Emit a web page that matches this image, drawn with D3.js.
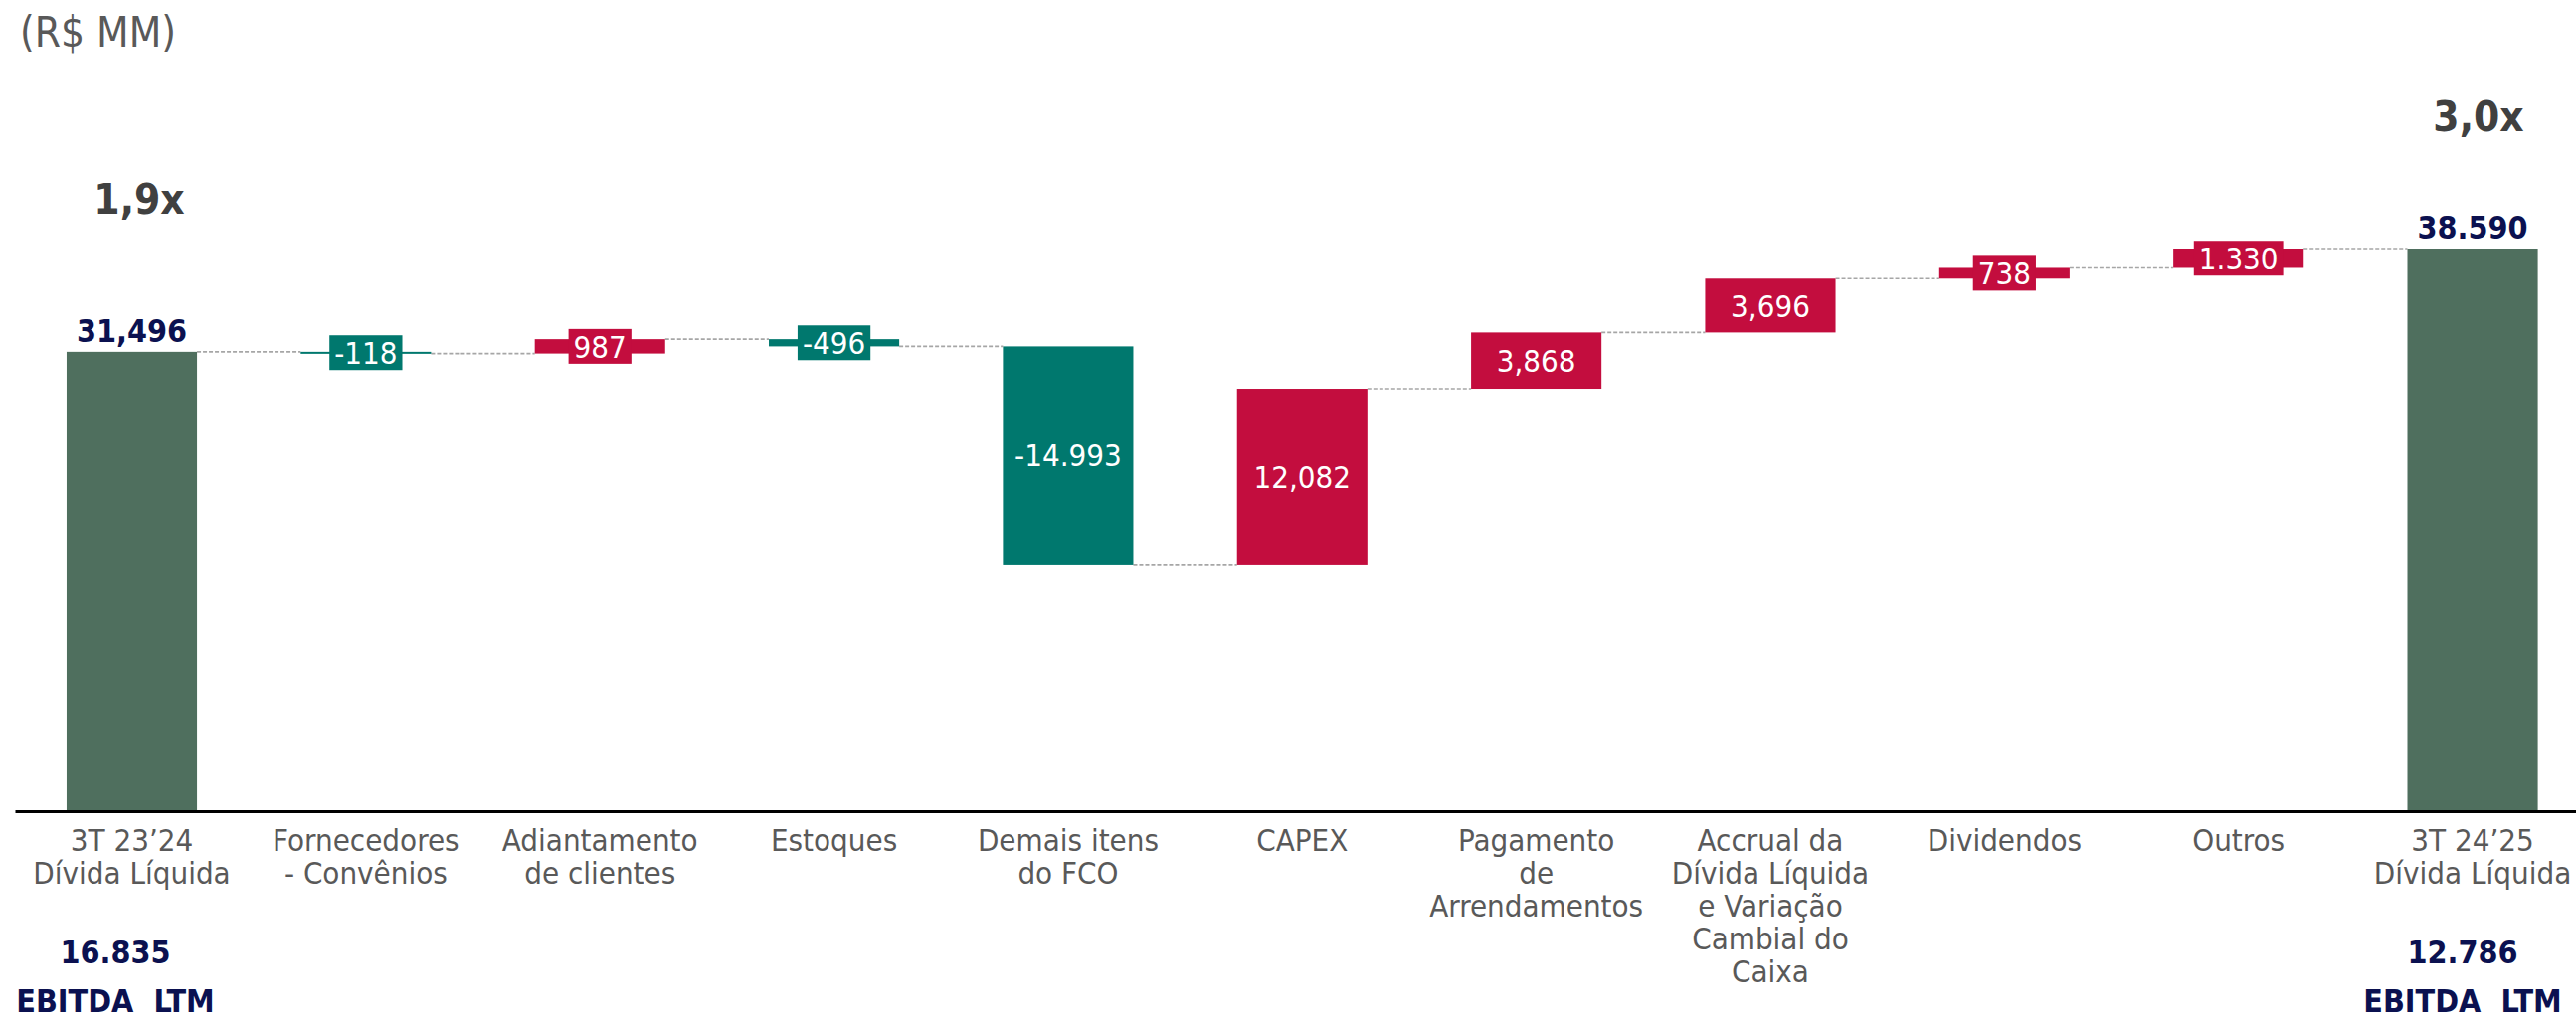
<!DOCTYPE html>
<html>
<head>
<meta charset="utf-8">
<script src="https://cdn.jsdelivr.net/npm/d3@7"></script>
<style>
  body { margin: 0; background: #fff; }
  svg text { font-family: "DejaVu Sans Condensed", "DejaVu Sans", sans-serif; font-stretch: condensed; }
</style>
</head>
<body>
<div id="chart"></div>
<script>
// chart data
var categories = ["start", "forn", "adiant", "estoques", "fco", "capex", "arrend", "accrual", "div", "outros", "end"];
var categoryLines = [
  ["3T 23\u201924", "Dívida Líquida"],
  ["Fornecedores", "- Convênios"],
  ["Adiantamento", "de clientes"],
  ["Estoques"],
  ["Demais itens", "do FCO"],
  ["CAPEX"],
  ["Pagamento", "de", "Arrendamentos"],
  ["Accrual da", "Dívida Líquida", "e Variação", "Cambial do", "Caixa"],
  ["Dividendos"],
  ["Outros"],
  ["3T 24\u201925", "Dívida Líquida"]
];
var startValue = 31496;
var endValue = 38590;
var deltas = [-118, 987, -496, -14993, 12082, 3868, 3696, 738, 1330];
var deltaLabels = ["-118", "987", "-496", "-14.993", "12,082", "3,868", "3,696", "738", "1.330"];
var totalLabels = ["31,496", "38.590"];
var ebitdaValues = ["16.835", "12.786"];
var leverage = ["1,9x", "3,0x"];

var width = 2590, height = 1027;
var baseY = 815;

var svg = d3.select("#chart").append("svg")
    .attr("width", width)
    .attr("height", height);

//Setup the ranges
var x = d3.scaleBand().domain(categories)
    .range([15, width])
    .paddingInner(0.443).paddingOuter(0.192).align(0.575);
var y = d3.scaleLinear().domain([0, endValue]).range([baseY, 250]);

var posColor = "#C30D3E", negColor = "#00786E", totalColor = "#4F6F5E";
var navy = "#0B1150";

// build waterfall steps
var steps = [];
var running = startValue;
deltas.forEach(function(d, i) {
  steps.push({cat: categories[i + 1], from: running, to: running + d, value: d, label: deltaLabels[i]});
  running += d;
});

// connectors (drawn first, below bars)
var levels = [startValue].concat(steps.map(function(s) { return s.to; }));
svg.selectAll(".connector")
    .data(levels)
  .enter().append("line")
    .attr("class", "connector")
    .attr("x1", function(d, i) { return x(categories[i]) + x.bandwidth(); })
    .attr("x2", function(d, i) { return x(categories[i + 1]); })
    .attr("y1", function(d) { return y(d); })
    .attr("y2", function(d) { return y(d); })
    .attr("stroke", "#A6A6A6")
    .attr("stroke-width", 1.6)
    .attr("stroke-dasharray", "4,2");

// total bars
var totals = [{cat: categories[0], value: startValue, label: totalLabels[0]},
              {cat: categories[categories.length - 1], value: endValue, label: totalLabels[1]}];
svg.selectAll(".total")
    .data(totals)
  .enter().append("rect")
    .attr("class", "total")
    .attr("x", function(d) { return x(d.cat); })
    .attr("width", x.bandwidth())
    .attr("y", function(d) { return y(d.value); })
    .attr("height", function(d) { return y(0) - y(d.value); })
    .attr("fill", totalColor);

svg.selectAll(".total-label")
    .data(totals)
  .enter().append("text")
    .attr("class", "total-label")
    .attr("x", function(d) { return x(d.cat) + x.bandwidth() / 2; })
    .attr("y", function(d) { return y(d.value) - 10; })
    .attr("text-anchor", "middle")
    .attr("font-size", 32)
    .attr("font-weight", "bold")
    .attr("fill", navy)
    .text(function(d) { return d.label; });

// delta bars
svg.selectAll(".step")
    .data(steps)
  .enter().append("rect")
    .attr("class", "step")
    .attr("x", function(d) { return x(d.cat); })
    .attr("width", x.bandwidth())
    .attr("y", function(d) { return y(Math.max(d.from, d.to)); })
    .attr("height", function(d) { return Math.max(2, Math.abs(y(d.from) - y(d.to))); })
    .attr("fill", function(d) { return d.value < 0 ? negColor : posColor; });

// delta labels, with a coloured box when the bar is too thin
var boxH = 35;
var lbl = svg.selectAll(".step-label")
    .data(steps)
  .enter().append("g")
    .attr("class", "step-label")
    .attr("transform", function(d) {
      var cy = (y(d.from) + y(d.to)) / 2;
      return "translate(" + (x(d.cat) + x.bandwidth() / 2) + "," + cy + ")";
    });

lbl.append("text")
    .attr("text-anchor", "middle")
    .attr("dy", "0.36em")
    .attr("font-size", 31)
    .attr("fill", "#fff")
    .text(function(d) { return d.label; });

lbl.each(function(d) {
  var g = d3.select(this);
  if (Math.abs(y(d.from) - y(d.to)) < boxH) {
    var w = g.select("text").node().getComputedTextLength() + 10;
    g.insert("rect", "text")
      .attr("x", -w / 2)
      .attr("y", -boxH / 2)
      .attr("width", w)
      .attr("height", boxH)
      .attr("fill", d.value < 0 ? negColor : posColor);
  }
});

// x axis
var xAxis = svg.append("g")
    .attr("transform", "translate(0," + (baseY + 1) + ")")
    .call(d3.axisBottom(x).tickSize(0).tickFormat(""));
xAxis.select(".domain").attr("stroke", "#000").attr("stroke-width", 3);

xAxis.selectAll(".tick").each(function(d, i) {
  var t = d3.select(this).append("text")
      .attr("text-anchor", "middle")
      .attr("y", 40)
      .attr("font-size", 31)
      .attr("fill", "#595959");
  categoryLines[i].forEach(function(line, j) {
    t.append("tspan").attr("x", 0).attr("dy", j === 0 ? 0 : 33).text(line);
  });
});

// EBITDA notes under the totals
var notes = [{x: 116, value: ebitdaValues[0]}, {x: 2476, value: ebitdaValues[1]}];
notes.forEach(function(n) {
  svg.append("text")
      .attr("x", n.x).attr("y", 969)
      .attr("text-anchor", "middle")
      .attr("font-size", 32).attr("font-weight", "bold")
      .attr("fill", navy)
      .text(n.value);
  svg.append("text")
      .attr("x", n.x).attr("y", 1018)
      .attr("text-anchor", "middle")
      .attr("font-size", 32).attr("font-weight", "bold")
      .attr("fill", navy)
      .style("white-space", "pre")
      .text("EBITDA  LTM");
});

// leverage multiples
svg.append("text").attr("x", 140).attr("y", 215)
    .attr("text-anchor", "middle").attr("font-size", 42).attr("font-weight", "bold")
    .attr("fill", "#404040").text(leverage[0]);
svg.append("text").attr("x", 2492).attr("y", 132)
    .attr("text-anchor", "middle").attr("font-size", 42).attr("font-weight", "bold")
    .attr("fill", "#404040").text(leverage[1]);

// unit
svg.append("text").attr("x", 20).attr("y", 47)
    .attr("font-size", 42).attr("fill", "#595959")
    .text("(R$ MM)");
</script>
</body>
</html>
